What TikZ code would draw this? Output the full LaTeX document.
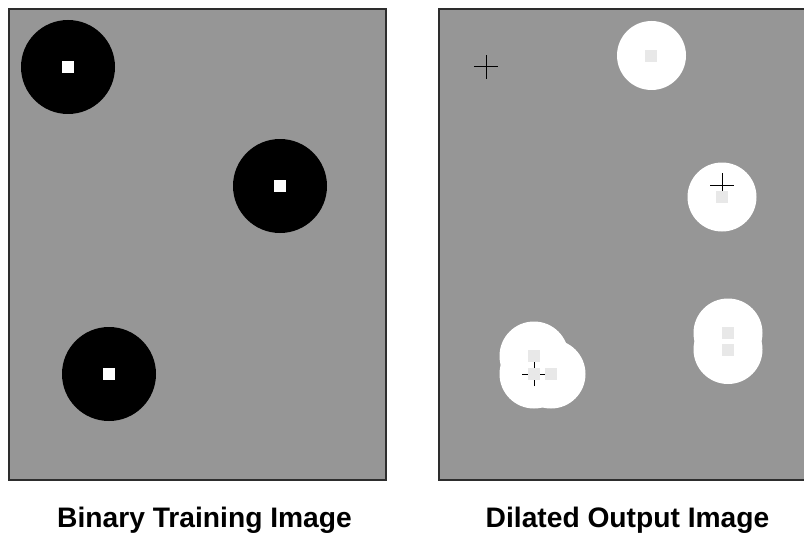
\documentclass[tikz,border=0pt]{standalone}
\usepackage{fontspec}
\setmainfont{Liberation Sans}
\definecolor{panelgray}{RGB}{150,150,150}
\definecolor{sqgray}{RGB}{232,232,232}
\definecolor{framec}{RGB}{45,45,45}
\tikzset{
  panel/.style={fill=panelgray, draw=framec, line width=1.3pt},
  blob/.style={fill=black},
  wblob/.style={fill=white},
  wsq/.style={fill=white},
  gsq/.style={fill=sqgray},
  crossl/.style={draw=black, line width=1pt},
  lbl/.style={font=\fontsize{28.2}{33}\selectfont\bfseries, anchor=base, inner sep=0pt}
}
\begin{document}
\begin{tikzpicture}[x=1pt,y=-1pt]
\useasboundingbox (0,0) rectangle (804,535);
% left panel
\path[panel] (9,9) rectangle (386,480);
\path[blob] (68,67) circle (47);
\path[blob] (280,186) circle (47);
\path[blob] (109,374) circle (47);
\path[wsq] (62,61) rectangle (74,73);
\path[wsq] (274,180) rectangle (286,192);
\path[wsq] (103,368) rectangle (115,380);
% right panel
\path[panel] (439,9) rectangle (812,480);
\path[wblob] (651.5,55.5) circle (34.5);
\path[wblob] (722,197) circle (34.5);
\path[wblob] (728,333) circle (34.5);
\path[wblob] (728,349.5) circle (34.5);
\path[wblob] (534,356) circle (34.5);
\path[wblob] (534,374) circle (34.5);
\path[wblob] (551,374) circle (34.5);
% crosshairs
\coordinate (c1) at (486,67);
\coordinate (c2) at (722,185);
\coordinate (c3) at (534,374);
\foreach \c in {c1,c2,c3}{
  \draw[crossl] ([xshift=-12pt]\c) -- ([xshift=12pt]\c);
  \draw[crossl] ([yshift=-12pt]\c) -- ([yshift=12pt]\c);
}
% gray squares
\path[gsq] (645,50) rectangle (657,62);
\path[gsq] (716,191) rectangle (728,203);
\path[gsq] (722,327) rectangle (734,339);
\path[gsq] (722,344) rectangle (734,356);
\path[gsq] (528,350) rectangle (540,362);
\path[gsq] (528,368) rectangle (540,380);
\path[gsq] (545,368) rectangle (557,380);
% labels
\node[lbl] (l1) at (204.5,527) {Binary Training Image};
\node[lbl] (l2) at (627.5,527) {Dilated Output Image};
\end{tikzpicture}
\end{document}
